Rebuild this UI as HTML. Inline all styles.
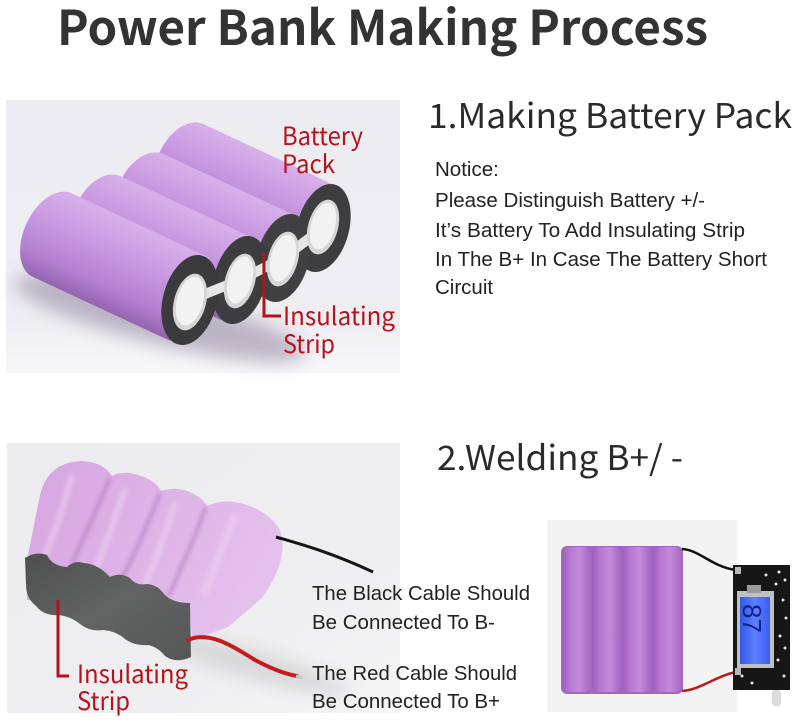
<!DOCTYPE html>
<html>
<head>
<meta charset="utf-8">
<style>
html,body{margin:0;padding:0;background:#fff;}
svg{display:block;}
.t{font-family:"Noto Sans CJK JP","Liberation Sans",sans-serif;}
.a{font-family:"Liberation Sans",Arial,sans-serif;}
</style>
</head>
<body>
<svg width="800" height="726" viewBox="0 0 800 726" xmlns="http://www.w3.org/2000/svg">
<defs>
  <linearGradient id="bg1" x1="0" y1="0" x2="0" y2="1">
    <stop offset="0" stop-color="#ededf1"/>
    <stop offset="0.8" stop-color="#eeeef2"/>
    <stop offset="1" stop-color="#f8f8fa"/>
  </linearGradient>
  <linearGradient id="bg2" x1="0" y1="0" x2="1" y2="1">
    <stop offset="0" stop-color="#ececef"/>
    <stop offset="0.7" stop-color="#efeff1"/>
    <stop offset="1" stop-color="#f6f6f7"/>
  </linearGradient>
  <linearGradient id="cyl1" x1="0" y1="0" x2="0" y2="1">
    <stop offset="0" stop-color="#d7b0ea"/>
    <stop offset="0.35" stop-color="#ca9be2"/>
    <stop offset="0.75" stop-color="#b481d1"/>
    <stop offset="1" stop-color="#9464b0"/>
  </linearGradient>
  <linearGradient id="pk2" x1="0" y1="0" x2="1" y2="0.4">
    <stop offset="0" stop-color="#d6a4e0"/>
    <stop offset="0.5" stop-color="#ddb2e6"/>
    <stop offset="1" stop-color="#e4c0ec"/>
  </linearGradient>
  <linearGradient id="cyl3" x1="0" y1="0" x2="1" y2="0">
    <stop offset="0" stop-color="#9c5cba"/>
    <stop offset="0.3" stop-color="#b878d2"/>
    <stop offset="0.6" stop-color="#c48ada"/>
    <stop offset="1" stop-color="#a566c2"/>
  </linearGradient>
  <linearGradient id="plate" x1="0" y1="0" x2="1" y2="1">
    <stop offset="0" stop-color="#4e504f"/>
    <stop offset="0.5" stop-color="#626463"/>
    <stop offset="1" stop-color="#555756"/>
  </linearGradient>
  <linearGradient id="lcd" x1="0" y1="0" x2="1" y2="0">
    <stop offset="0" stop-color="#3456e8"/>
    <stop offset="0.5" stop-color="#5d80ff"/>
    <stop offset="1" stop-color="#3a5cf0"/>
  </linearGradient>
  <filter id="blur" x="-50%" y="-50%" width="200%" height="200%">
    <feGaussianBlur stdDeviation="9"/>
  </filter>
  <filter id="blur2" x="-50%" y="-50%" width="200%" height="200%">
    <feGaussianBlur stdDeviation="2"/>
  </filter>
</defs>

<rect width="800" height="726" fill="#fff"/>

<!-- Title -->
<text class="t" x="57" y="45" font-size="48" font-weight="700" fill="#333" textLength="651" lengthAdjust="spacingAndGlyphs">Power Bank Making Process</text>

<!-- ===== Photo 1 ===== -->
<rect x="6" y="100" width="394" height="273" fill="url(#bg1)"/>
<ellipse cx="160" cy="318" rx="150" ry="26" transform="rotate(14 160 318)" fill="#7d6c8c" opacity="0.45" filter="url(#blur)"/>

<!-- cylinders back to front -->
<g transform="translate(185,164) rotate(25)">
  <path d="M0,-44 H152 V44 H0 A28 44 0 0 1 0,-44 Z" fill="url(#cyl1)"/>
</g>
<g transform="translate(145,194) rotate(25)">
  <path d="M0,-44 H152 V44 H0 A28 44 0 0 1 0,-44 Z" fill="url(#cyl1)"/>
</g>
<g transform="translate(102,216) rotate(25)">
  <path d="M0,-44 H152 V44 H0 A28 44 0 0 1 0,-44 Z" fill="url(#cyl1)"/>
</g>
<g transform="translate(52,235) rotate(25)">
  <path d="M0,-46 H152 V46 H0 A28 46 0 0 1 0,-46 Z" fill="url(#cyl1)"/>
</g>

<!-- end caps -->
<ellipse cx="323" cy="228" rx="26" ry="45" transform="rotate(15 323 228)" fill="#3e3e41"/>
<ellipse cx="283" cy="258" rx="26" ry="45" transform="rotate(15 283 258)" fill="#404043"/>
<ellipse cx="240" cy="280" rx="26" ry="45" transform="rotate(15 240 280)" fill="#3d3d40"/>
<ellipse cx="190" cy="300" rx="27" ry="46" transform="rotate(15 190 300)" fill="#3b3b3e"/>
<path d="M190,300 L240,280 L283,258 L323,228" stroke="#e6e6e6" stroke-width="10" fill="none" stroke-linejoin="round"/>
<ellipse cx="323" cy="227" rx="15" ry="28" transform="rotate(15 323 227)" fill="#d6d6d6"/>
<ellipse cx="323" cy="226" rx="12" ry="24" transform="rotate(15 323 226)" fill="#f2f2f2"/>
<ellipse cx="283" cy="259" rx="15" ry="28" transform="rotate(15 283 259)" fill="#d6d6d6"/>
<ellipse cx="283" cy="258" rx="12" ry="24" transform="rotate(15 283 258)" fill="#f2f2f2"/>
<ellipse cx="240" cy="281" rx="15" ry="28" transform="rotate(15 240 281)" fill="#d6d6d6"/>
<ellipse cx="240" cy="280" rx="12" ry="24" transform="rotate(15 240 280)" fill="#f2f2f2"/>
<ellipse cx="190" cy="302" rx="16" ry="29" transform="rotate(15 190 302)" fill="#d6d6d6"/>
<ellipse cx="190" cy="301" rx="13" ry="25" transform="rotate(15 190 301)" fill="#f3f3f3"/>

<!-- labels photo 1 -->
<text class="t" x="282" y="145" font-size="25" fill="#b5121b" textLength="81" lengthAdjust="spacingAndGlyphs">Battery</text>
<text class="t" x="282" y="173" font-size="25" fill="#b5121b" textLength="53" lengthAdjust="spacingAndGlyphs">Pack</text>
<path d="M264,253 V316 H281" stroke="#b5121b" stroke-width="3" fill="none"/>
<text class="t" x="283" y="325" font-size="25" fill="#b5121b" textLength="112" lengthAdjust="spacingAndGlyphs">Insulating</text>
<text class="t" x="283" y="353" font-size="25" fill="#b5121b" textLength="52" lengthAdjust="spacingAndGlyphs">Strip</text>

<!-- Section 1 text -->
<text class="t" x="428" y="128" font-size="34" fill="#2a2a2a" textLength="364" lengthAdjust="spacingAndGlyphs">1.Making Battery Pack</text>
<g class="a" font-size="20.5" fill="#222">
  <text x="435" y="176">Notice:</text>
  <text x="435" y="207" textLength="270" lengthAdjust="spacingAndGlyphs">Please Distinguish Battery +/-</text>
  <text x="435" y="237" textLength="310" lengthAdjust="spacingAndGlyphs">It’s Battery To Add Insulating Strip</text>
  <text x="435" y="266" textLength="332" lengthAdjust="spacingAndGlyphs">In The B+ In Case The Battery Short</text>
  <text x="435" y="294">Circuit</text>
</g>

<!-- ===== Photo 2 ===== -->
<rect x="7" y="443" width="393" height="270" fill="url(#bg2)"/>
<ellipse cx="255" cy="665" rx="100" ry="14" transform="rotate(16 255 665)" fill="#a9a9b0" opacity="0.35" filter="url(#blur)"/>

<!-- pink pack silhouette -->
<path d="M27,560 L40,495 Q48,462 82,461 Q103,462 112,476 Q122,470 138,475 Q155,480 161,491 Q175,486 190,492 Q203,498 207,506 Q222,499 240,503 Q268,510 280,530 Q290,558 262,598 L228,627 L192,640 L190,605 L27,600 Z" fill="url(#pk2)"/>
<!-- valleys -->
<path d="M110,478 Q92,520 72,564" stroke="#ad78bd" stroke-width="3" fill="none" opacity="0.8" filter="url(#blur2)"/>
<path d="M160,493 Q142,540 120,582" stroke="#ad78bd" stroke-width="3" fill="none" opacity="0.8" filter="url(#blur2)"/>
<path d="M206,507 Q188,555 168,597" stroke="#ad78bd" stroke-width="3" fill="none" opacity="0.8" filter="url(#blur2)"/>
<!-- highlights -->
<path d="M72,475 Q60,520 45,555" stroke="#ecd2f2" stroke-width="6" fill="none" opacity="0.6" filter="url(#blur2)"/>
<path d="M125,488 Q110,535 95,570" stroke="#ecd2f2" stroke-width="6" fill="none" opacity="0.6" filter="url(#blur2)"/>
<path d="M175,503 Q160,550 145,585" stroke="#ecd2f2" stroke-width="6" fill="none" opacity="0.6" filter="url(#blur2)"/>
<path d="M235,515 Q218,560 203,595" stroke="#ecd2f2" stroke-width="8" fill="none" opacity="0.5" filter="url(#blur2)"/>

<!-- black wire -->
<path d="M276,537 C300,544 330,552 373,572" stroke="#151515" stroke-width="3" fill="none"/>

<!-- end plate -->
<path d="M25,558 Q36,551 47,555 Q52,566 67,567 Q74,560 84,563 Q98,564 110,577 Q120,572 130,578 Q136,586 147,584 Q158,585 164,594 Q172,603 190,603 L191,657 Q176,664 165,656 Q158,647 148,645 Q134,646 125,639 Q116,631 103,630 Q90,632 80,624 Q70,616 58,615 Q44,616 36,606 Q26,598 26,585 Z" fill="url(#plate)"/>

<!-- red wire -->
<path d="M188,640 C210,630 235,648 255,660 C270,668 285,674 297,676" stroke="#c41c1c" stroke-width="4" fill="none" stroke-linecap="round"/>
<path d="M296,676 L303,678" stroke="#c9c9c9" stroke-width="3"/>

<!-- labels photo 2 -->
<path d="M58,600 V676 H69" stroke="#b5121b" stroke-width="3" fill="none"/>
<text class="t" x="77" y="683" font-size="25" fill="#b5121b" textLength="111" lengthAdjust="spacingAndGlyphs">Insulating</text>
<text class="t" x="77" y="710" font-size="25" fill="#b5121b" textLength="53" lengthAdjust="spacingAndGlyphs">Strip</text>

<!-- Section 2 text -->
<text class="t" x="437" y="470" font-size="34" fill="#2a2a2a" textLength="246" lengthAdjust="spacingAndGlyphs">2.Welding B+/ -</text>
<g class="a" font-size="20.3" fill="#222">
  <text x="312" y="600" textLength="218" lengthAdjust="spacingAndGlyphs">The Black Cable Should</text>
  <text x="312" y="629" textLength="183" lengthAdjust="spacingAndGlyphs">Be Connected To B-</text>
  <text x="312" y="680" textLength="205" lengthAdjust="spacingAndGlyphs">The Red Cable Should</text>
  <text x="312" y="708" textLength="188" lengthAdjust="spacingAndGlyphs">Be Connected To B+</text>
</g>

<!-- ===== Photo 3 ===== -->
<rect x="547" y="520" width="190" height="192" fill="#f3f3f4"/>
<rect x="561" y="546" width="122" height="148" rx="6" fill="#a466c0"/>
<rect x="562" y="547" width="29" height="145" rx="7" fill="url(#cyl3)"/>
<rect x="592" y="547" width="29" height="145" rx="7" fill="url(#cyl3)"/>
<rect x="622" y="547" width="29" height="145" rx="7" fill="url(#cyl3)"/>
<rect x="652" y="547" width="30" height="145" rx="7" fill="url(#cyl3)"/>
<path d="M682,549 C700,550 712,567 736,570" stroke="#111" stroke-width="2.5" fill="none"/>
<path d="M682,691 C700,690 716,676 736,672" stroke="#b51d1d" stroke-width="2.5" fill="none"/>

<!-- board -->
<rect x="733" y="565" width="57" height="125" fill="#161616"/>
<rect x="737" y="591" width="37" height="77" fill="#bfc0c4"/>
<rect x="740" y="597" width="30" height="67" fill="url(#lcd)"/>
<rect x="747" y="585" width="14" height="8" fill="#9a9a9e"/>
<text class="a" x="0" y="0" font-size="26" fill="#10238a" transform="translate(743,604) rotate(90)">87</text>
<g fill="#e6e6e6">
  <circle cx="779" cy="572" r="1.5"/><circle cx="785" cy="580" r="1.5"/><circle cx="776" cy="584" r="1.5"/>
  <circle cx="783" cy="600" r="1.5"/><circle cx="786" cy="618" r="1.5"/><circle cx="780" cy="636" r="1.5"/>
  <circle cx="785" cy="648" r="1.5"/><circle cx="778" cy="660" r="1.5"/><circle cx="784" cy="676" r="1.5"/>
  <circle cx="742" cy="676" r="1.5"/><circle cx="752" cy="683" r="1.5"/><circle cx="766" cy="575" r="1.5"/>
</g>
<rect x="735" y="567" width="6" height="7" fill="#b8b8b8"/>
<rect x="735" y="668" width="6" height="7" fill="#b8b8b8"/>
<rect x="772" y="690" width="9" height="16" rx="3" fill="#dcdce0"/>
</svg>
</body>
</html>
